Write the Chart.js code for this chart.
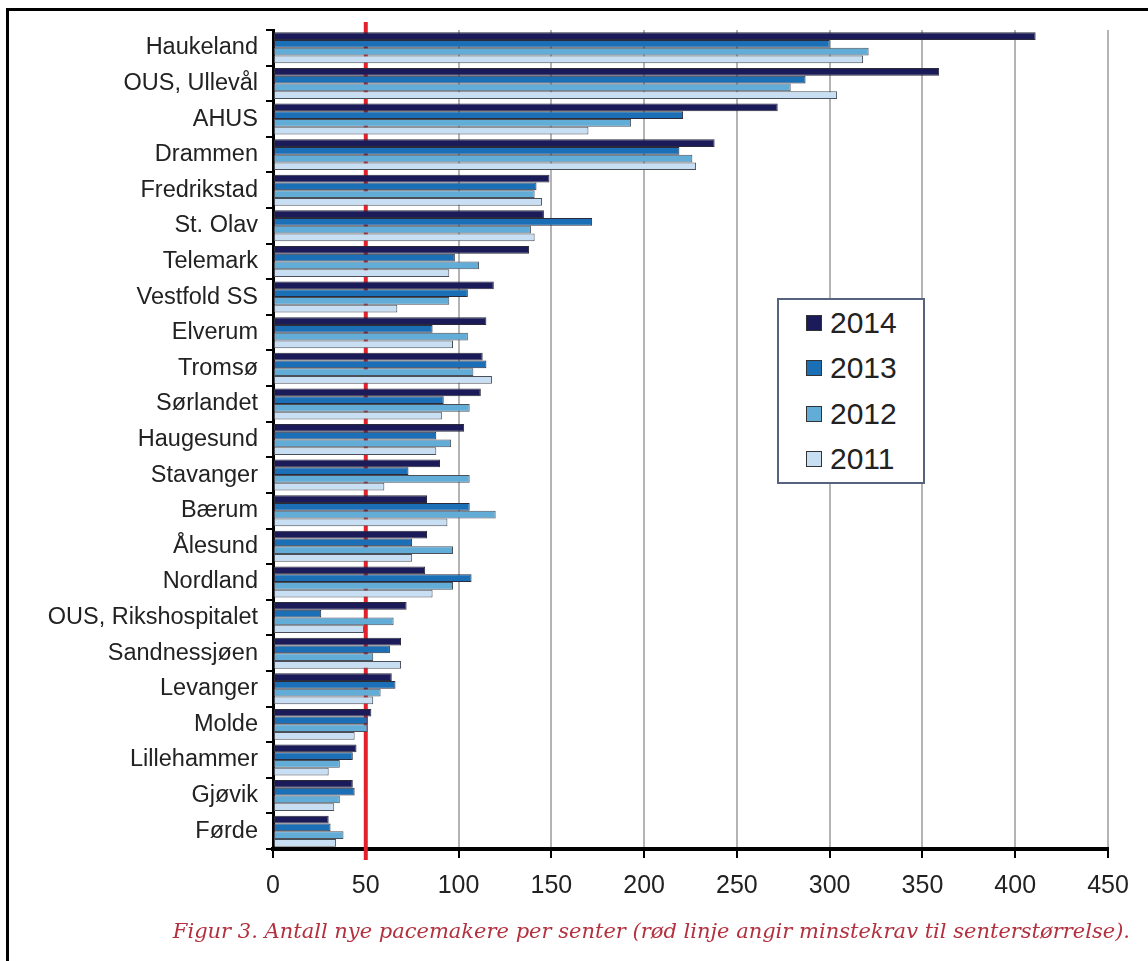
<!DOCTYPE html>
<html>
<head>
<meta charset="utf-8">
<script src="https://cdn.jsdelivr.net/npm/chart.js@4"></script>
<style>
    body { margin: 0; background: #fff; font-family: "Liberation Sans", Arial, sans-serif; }
    #wrap { position: relative; width: 1148px; height: 961px; overflow: hidden; }
    #frame { position: absolute; left: 6px; top: 8px; width: 1200px; height: 1000px;
             border-left: 3px solid #000; border-top: 3px solid #000; box-sizing: border-box; }
    #chartPace { position: absolute; left: 0; top: 0; }
    #legend { position: absolute; left: 777px; top: 298px; width: 148px; height: 186px;
              border: 2px solid #56627e; background: #fff; box-sizing: border-box; padding-top: 0; }
    .legend__item { display: flex; align-items: center; height: 45.5px; padding-left: 27px;
                    font-size: 30px; color: #222; }
    .legend__box { width: 16px; height: 16px; margin-right: 8px; border: 1px solid #333; box-sizing: border-box; }
    #caption { position: absolute; right: 18px; top: 919px; font-family: "DejaVu Serif", serif;
               font-style: italic; font-size: 21px; color: #b3303e; white-space: nowrap; }
</style>
</head>
<body>
<div id="wrap">
    <div id="frame"></div>
    <canvas id="chartPace" width="1148" height="961"></canvas>
    <div id="legend"></div>
    <div id="caption">Figur 3. Antall nye pacemakere per senter (rød linje angir minstekrav til senterstørrelse).</div>
</div>
<script>
"use strict";

//--------------------------------data---------------------------------
const centres = ["Haukeland", "OUS, Ullevål", "AHUS", "Drammen", "Fredrikstad", "St. Olav", "Telemark",
    "Vestfold SS", "Elverum", "Tromsø", "Sørlandet", "Haugesund", "Stavanger", "Bærum", "Ålesund",
    "Nordland", "OUS, Rikshospitalet", "Sandnessjøen", "Levanger", "Molde", "Lillehammer", "Gjøvik", "Førde"];

const years = ["2014", "2013", "2012", "2011"];

const values2014 = [411, 359, 272, 238, 149, 146, 138, 119, 115, 113, 112, 103, 90, 83, 83, 82, 72, 69, 64, 53, 45, 43, 30];
const values2013 = [300, 287, 221, 219, 142, 172, 98, 105, 86, 115, 92, 88, 73, 106, 75, 107, 26, 63, 66, 51, 43, 44, 31];
const values2012 = [321, 279, 193, 226, 141, 139, 111, 95, 105, 108, 106, 96, 106, 120, 97, 97, 65, 54, 58, 51, 36, 36, 38];
const values2011 = [318, 304, 170, 228, 145, 141, 95, 67, 97, 118, 91, 88, 60, 94, 75, 86, 49, 69, 54, 44, 30, 33, 34];

const xTicks = [0, 50, 100, 150, 200, 250, 300, 350, 400, 450];
const minimumRequirement = 50;

const colours = ["#1c1b59", "#1a6fb6", "#62acd8", "#c8def2"];

//--------------------------------red line plugin---------------------------------
const redLine = {
    id: 'redLine',
    beforeDatasetsDraw(chart) {
        const ctx = chart.ctx;
        const x = chart.scales.x.getPixelForValue(minimumRequirement);
        ctx.save();
        ctx.strokeStyle = '#e4202a';
        ctx.lineWidth = 4;
        ctx.beginPath();
        ctx.moveTo(x, chart.chartArea.top - 8);
        ctx.lineTo(x, chart.chartArea.bottom + 11);
        ctx.stroke();
        ctx.restore();
    }
};

//--------------------------------chart---------------------------------
const pace = document.getElementById('chartPace').getContext('2d');
const seriesValues = [values2014, values2013, values2012, values2011];

var chartPace = new Chart(pace, {
    type: 'bar',
    data: {
        labels: centres,
        datasets: years.map((y, i) => ({
            label: y,
            data: seriesValues[i],
            backgroundColor: colours[i],
            borderColor: i < 2 ? '#2a2a3a' : '#4a4f58',
            borderWidth: 1,
            borderSkipped: false,
            categoryPercentage: 0.87,
            barPercentage: 1
        }))
    },
    options: {
        indexAxis: 'y',
        responsive: false,
        animation: false,
        layout: { padding: { top: 30, right: 40, left: 0, bottom: 0 } },
        plugins: { legend: { display: false }, tooltip: { enabled: false } },
        scales: {
            x: {
                min: 0,
                max: 450,
                afterBuildTicks: scale => { scale.ticks = xTicks.map(v => ({ value: v })); },
                afterFit: scale => { scale.height = 112; },
                grid: { color: '#b4b4b4', lineWidth: 2, tickColor: '#000', tickLength: 9, tickWidth: 2 },
                border: { color: '#000', width: 4 },
                ticks: { color: '#222', padding: 13, font: { family: 'Liberation Sans', size: 25 } }
            },
            y: {
                afterFit: scale => { scale.width = 273; },
                grid: { drawOnChartArea: false, color: '#000', tickLength: 7, lineWidth: 2 },
                border: { color: '#000', width: 3 },
                ticks: { color: '#222', padding: 8, autoSkip: false, font: { family: 'Liberation Sans', size: 23.5 } }
            }
        }
    },
    plugins: [redLine]
});

//--------------------------------legend---------------------------------
const legend = document.getElementById('legend');
years.forEach((y, i) => {
    const item = document.createElement('div');
    item.className = 'legend__item';
    const box = document.createElement('span');
    box.className = 'legend__box';
    box.style.background = colours[i];
    item.appendChild(box);
    item.appendChild(document.createTextNode(y));
    legend.appendChild(item);
});
</script>
</body>
</html>
